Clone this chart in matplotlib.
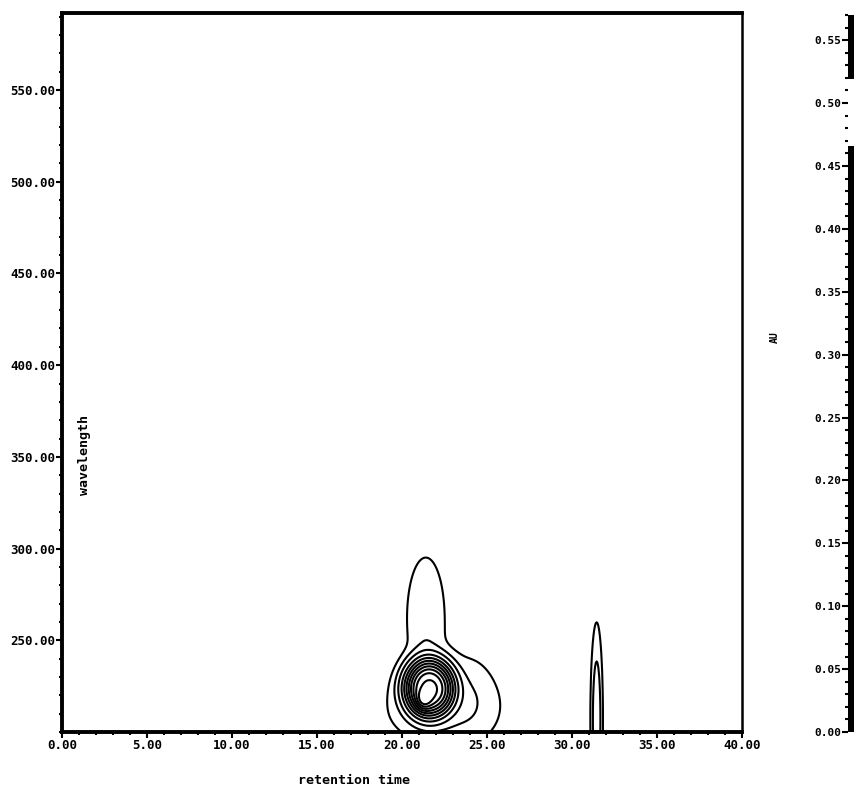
import numpy as np
import matplotlib
matplotlib.use("Agg")
import matplotlib.pyplot as plt
from matplotlib.ticker import MultipleLocator, FormatStrFormatter

#Peaks (retention time, wavelength, widths, heights, flatness)
#main band, upper spike, top, right shoulder, broad base, peak at 31.5 min
peak_rt = [21.6, 21.4, 21.25, 23.8, 22.2, 31.45]
peak_wl = [224, 262, 217, 220, 212, 207]
peak_srt = [1.15, 0.75, 0.3, 1.1, 2.2, 0.2]
peak_swl = [12.5, 22.5, 3.5, 15, 13, 28.6]
peak_amp = [0.365, 0.0295, 0.068, 0.02, 0.024, 0.055]
peak_pow = [1.5, 1.0, 1.0, 1.0, 1.0, 1.0]

levels = [0.01, 0.03, 0.06, 0.10, 0.14, 0.18, 0.22, 0.26, 0.30, 0.34, 0.38]

#Colorbar black segments (AU)
bar_lo = [0.0, 0.519]
bar_hi = [0.466, 0.57]

rt = np.linspace(0, 40, 801)
wl = np.linspace(200, 592, 393)
T, W = np.meshgrid(rt, wl)
Z = np.zeros_like(T)
for c1, c2, s1, s2, a, p in zip(peak_rt, peak_wl, peak_srt, peak_swl, peak_amp, peak_pow):
    r2 = ((T - c1) / s1) ** 2 + ((W - c2) / s2) ** 2
    Z += a * np.exp(-0.5 * r2 ** p)

font = {"family": "DejaVu Sans Mono", "weight": "bold"}

fig = plt.figure(figsize=(8.55, 7.86), dpi=100)
ax = fig.add_axes([62 / 855, 1 - 732 / 786, 680 / 855, 719 / 786])
ax.contour(T, W, Z, levels=levels, colors="black", linewidths=1.5)
ax.set_xlim(0, 40)
ax.set_ylim(200, 592)

ax.xaxis.set_major_locator(MultipleLocator(5))
ax.xaxis.set_minor_locator(MultipleLocator(1))
ax.yaxis.set_minor_locator(MultipleLocator(10))
ax.xaxis.set_major_formatter(FormatStrFormatter("%.2f"))
ax.yaxis.set_major_formatter(FormatStrFormatter("%.2f"))
ax.set_yticks([250, 300, 350, 400, 450, 500, 550])
ax.tick_params(which="major", length=4, width=1.5, pad=1, labelsize=9)
ax.tick_params(which="minor", length=2.5, width=1.5)
for lab in ax.get_xticklabels() + ax.get_yticklabels():
    lab.set_fontfamily(font["family"])
    lab.set_fontweight("bold")

for side in ["left", "bottom", "top"]:
    ax.spines[side].set_linewidth(2.8)
ax.spines["right"].set_linewidth(1.8)

fig.text(298 / 855, 1 - 781 / 786, "retention time", fontsize=9.5,
         ha="left", va="center", **font)
ax.text(84 / 855, 1 - 455 / 786, "wavelength", fontsize=9.5, rotation=90,
        ha="center", va="center", transform=fig.transFigure, **font)

#Absorbance scale on the right
cax = fig.add_axes([848 / 855, 1 - 732 / 786, 6 / 855, 717 / 786])
cax.set_ylim(0, 0.57)
cax.set_xlim(0, 1)
for lo, hi in zip(bar_lo, bar_hi):
    cax.fill_between([0, 1], lo, hi, color="black", lw=0)
for side in ["left", "right", "top", "bottom"]:
    cax.spines[side].set_visible(False)
cax.set_xticks([])
cax.yaxis.set_major_locator(MultipleLocator(0.05))
cax.yaxis.set_minor_locator(MultipleLocator(0.01))
cax.yaxis.set_major_formatter(FormatStrFormatter("%.2f"))
cax.tick_params(which="major", length=4, width=1.5, pad=1, labelsize=8)
cax.tick_params(which="minor", length=2.5, width=1.5)
for lab in cax.get_yticklabels():
    lab.set_fontfamily(font["family"])
    lab.set_fontweight("bold")
fig.text(775 / 855, 1 - 337 / 786, "AU", fontsize=7, rotation=90,
         ha="center", va="center", **font)

fig.savefig("out.png", dpi=100)
